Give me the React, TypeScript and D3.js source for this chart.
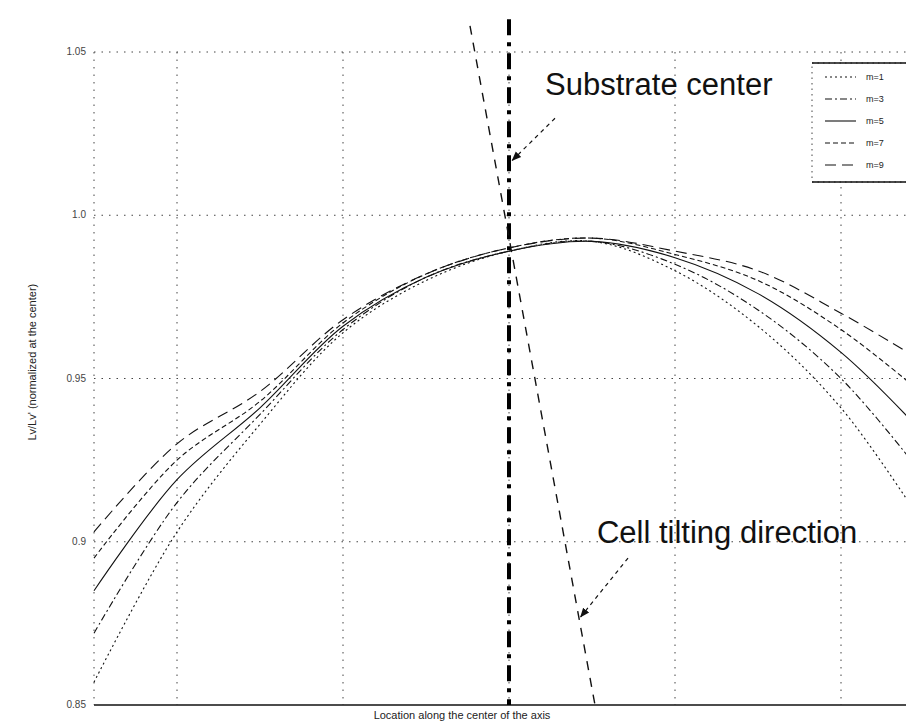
import React, { useEffect, useRef } from "react";
import * as d3 from "d3";

// positions along the axis (cell widths from the substrate center)
const positions = [-2.5, -2, -1.5, -1, -0.5, 0, 0.5, 1, 1.5, 2, 2.5];

// normalized luminance for each m
const m1 = [0.857, 0.903, 0.936, 0.964, 0.98, 0.989, 0.992, 0.983, 0.966, 0.941, 0.905];
const m3 = [0.872, 0.912, 0.939, 0.965, 0.981, 0.989, 0.992, 0.985, 0.971, 0.95, 0.92];
const m5 = [0.885, 0.919, 0.941, 0.966, 0.981, 0.989, 0.992, 0.987, 0.976, 0.958, 0.933];
const m7 = [0.895, 0.925, 0.943, 0.967, 0.982, 0.99, 0.993, 0.988, 0.98, 0.965, 0.945];
const m9 = [0.903, 0.93, 0.946, 0.968, 0.982, 0.99, 0.993, 0.989, 0.983, 0.97, 0.955];

const seriesNames = ["m=1", "m=3", "m=5", "m=7", "m=9"];
const seriesValues = [m1, m3, m5, m7, m9];

const xTicks = [-2, -1, 0, 1, 2];
const yTicks = [0.85, 0.9, 0.95, 1.0, 1.05];
const yTickLabels = ["0.85", "0.9", "0.95", "1.0", "1.05"];

// tilted cell direction line (data units)
const tiltLine = [
  { x: -0.235, y: 1.058 },
  { x: 0.518, y: 0.85 },
];

const App = () => {
  const svgRef = useRef<SVGSVGElement>(null);

  useEffect(() => {
    const width = 906;
    const height = 722;

    const svg = d3.select(svgRef.current);
    svg.selectAll("*").remove();
    svg.attr("width", width).attr("height", height);

    // 比例尺
    const x = d3.scaleLinear().domain([-2.5, 2.5]).range([94, 924]);
    const y = d3.scaleLinear().domain([0.85, 1.05]).range([705, 52]);

    const grid = svg.append("g");
    // 虚线网格
    grid
      .selectAll(".vgrid")
      .data([-2.5, ...xTicks])
      .enter()
      .append("line")
      .attr("x1", (d) => x(d))
      .attr("x2", (d) => x(d))
      .attr("y1", y(1.05))
      .attr("y2", y(0.85))
      .attr("stroke", "#444")
      .attr("stroke-width", 1)
      .attr("stroke-dasharray", "1.5,6");

    grid
      .selectAll(".hgrid")
      .data(yTicks.slice(1))
      .enter()
      .append("line")
      .attr("x1", x(-2.5))
      .attr("x2", width)
      .attr("y1", (d) => y(d))
      .attr("y2", (d) => y(d))
      .attr("stroke", "#444")
      .attr("stroke-width", 1)
      .attr("stroke-dasharray", "1.5,6");

    // 底部轴线
    svg
      .append("line")
      .attr("x1", x(-2.5))
      .attr("x2", width)
      .attr("y1", y(0.85))
      .attr("y2", y(0.85))
      .attr("stroke", "#111")
      .attr("stroke-width", 1.6);

    // y tick labels
    svg
      .selectAll(".ylab")
      .data(yTicks)
      .enter()
      .append("text")
      .attr("x", 86)
      .attr("y", (d) => y(d) + 3)
      .attr("text-anchor", "end")
      .attr("font-family", "Liberation Sans, Arial, sans-serif")
      .attr("font-size", 10)
      .attr("fill", "#444")
      .text((d, i) => yTickLabels[i]);

    // axis titles
    svg
      .append("text")
      .attr("transform", `translate(36,${y(0.955)}) rotate(-90)`)
      .attr("text-anchor", "middle")
      .attr("font-family", "Liberation Sans, Arial, sans-serif")
      .attr("font-size", 11)
      .attr("fill", "#222")
      .text("Lv/Lv' (normalized at the center)");

    svg
      .append("text")
      .attr("x", 462)
      .attr("y", 719)
      .attr("text-anchor", "middle")
      .attr("font-family", "Liberation Sans, Arial, sans-serif")
      .attr("font-size", 11)
      .attr("fill", "#222")
      .text("Location along the center of the axis");

    const dashes = ["2,3", "7,3,2,3", null, "5,3", "11,6"];

    const line = d3
      .line<number>()
      .curve(d3.curveCatmullRom)
      .x((d, i) => x(positions[i]))
      .y((d) => y(d));

    seriesValues.forEach((vals, k) => {
      svg
        .append("path")
        .datum(vals)
        .attr("d", line)
        .attr("fill", "none")
        .attr("stroke", "#111")
        .attr("stroke-width", 1.1)
        .attr("stroke-dasharray", dashes[k]);
    });

    // substrate center (dash-dot)
    svg
      .append("line")
      .attr("x1", x(0))
      .attr("x2", x(0))
      .attr("y1", y(1.06))
      .attr("y2", y(0.85))
      .attr("stroke", "#000")
      .attr("stroke-width", 4)
      .attr("stroke-dasharray", "16,7,4,7");

    // cell tilting line
    svg
      .append("line")
      .attr("x1", x(tiltLine[0].x))
      .attr("y1", y(tiltLine[0].y))
      .attr("x2", x(tiltLine[1].x))
      .attr("y2", y(tiltLine[1].y))
      .attr("stroke", "#111")
      .attr("stroke-width", 1.4)
      .attr("stroke-dasharray", "9,8");

    // arrows
    const defs = svg.append("defs");
    defs
      .append("marker")
      .attr("id", "arrow")
      .attr("viewBox", "0 0 10 10")
      .attr("refX", 9)
      .attr("refY", 5)
      .attr("markerWidth", 8)
      .attr("markerHeight", 8)
      .attr("orient", "auto")
      .append("path")
      .attr("d", "M0,1 L10,5 L0,9 z")
      .attr("fill", "#111");

    const arrows = [
      [0.277, 1.0297, 0.02, 1.0168],
      [0.717, 0.895, 0.432, 0.877],
    ];
    arrows.forEach(([ax, ay, bx, by]) => {
      svg
        .append("line")
        .attr("x1", x(ax))
        .attr("y1", y(ay))
        .attr("x2", x(bx))
        .attr("y2", y(by))
        .attr("stroke", "#111")
        .attr("stroke-width", 1.2)
        .attr("stroke-dasharray", "4,4")
        .attr("marker-end", "url(#arrow)");
    });

    svg
      .append("text")
      .attr("x", x(0.217))
      .attr("y", y(1.0368))
      .attr("font-family", "Liberation Sans, Arial, sans-serif")
      .attr("font-size", 31)
      .attr("fill", "#111")
      .text("Substrate center");

    svg
      .append("text")
      .attr("x", x(0.53))
      .attr("y", y(0.8996))
      .attr("font-family", "Liberation Sans, Arial, sans-serif")
      .attr("font-size", 31)
      .attr("fill", "#111")
      .text("Cell tilting direction");

    // legend
    const lg = svg.append("g");
    lg.append("rect")
      .attr("x", 812)
      .attr("y", 63)
      .attr("width", 120)
      .attr("height", 119)
      .attr("fill", "#fff")
      .attr("stroke", "#444")
      .attr("stroke-dasharray", "1.5,4");
    [63, 182].forEach((yy) =>
      lg
        .append("line")
        .attr("x1", 812)
        .attr("x2", width)
        .attr("y1", yy)
        .attr("y2", yy)
        .attr("stroke", "#111")
        .attr("stroke-width", 1.6)
    );
    seriesNames.forEach((name, k) => {
      const yy = 77 + k * 22;
      lg.append("line")
        .attr("x1", 825)
        .attr("x2", 856)
        .attr("y1", yy)
        .attr("y2", yy)
        .attr("stroke", "#111")
        .attr("stroke-width", 1.1)
        .attr("stroke-dasharray", dashes[k]);
      lg.append("text")
        .attr("x", 866)
        .attr("y", yy + 3)
        .attr("font-family", "Liberation Sans, Arial, sans-serif")
        .attr("font-size", 9)
        .attr("fill", "#222")
        .text(name);
    });
  }, []);

  return (
    <svg
      ref={svgRef}
      style={{ position: "absolute", left: 0, top: 0, background: "#fff" }}
    />
  );
};

export default App;
